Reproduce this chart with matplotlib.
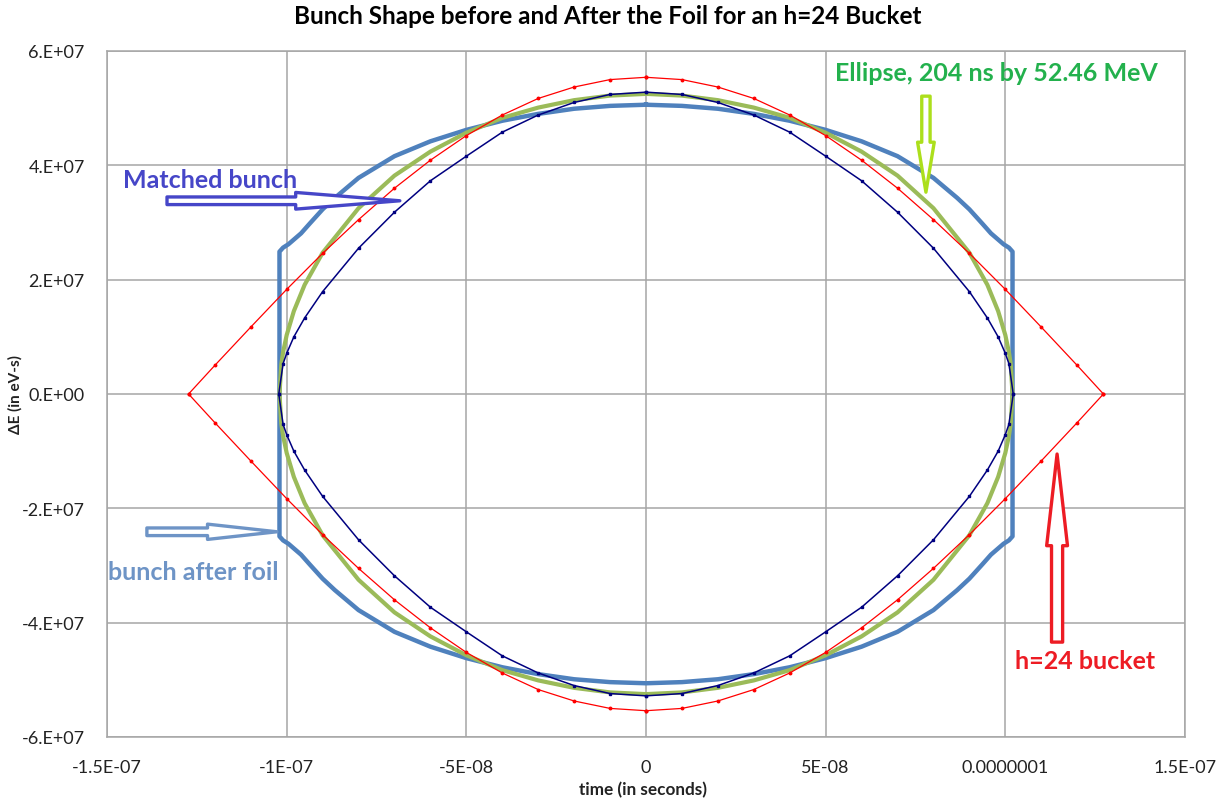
import matplotlib
matplotlib.use('Agg')
import matplotlib.pyplot as plt
import numpy as np

plt.rcParams['font.family'] = ['Lato', 'DejaVu Sans']

# upper-right quarter of each closed curve
# (time in ns, energy offset in MeV); the curves are symmetric in both axes
bucket_t = [0, 10, 20, 30, 40, 50, 60, 70, 80, 90, 100, 110, 120, 127.3]
bucket_e = [55.4, 55.0, 53.7, 51.7, 48.8, 45.2, 40.9, 36.0, 30.5, 24.6, 18.3, 11.7, 5.0, 0.0]

ellipse_t = [0, 10, 20, 30, 40, 50, 60, 70, 80, 90, 95, 98, 100, 101, 101.5, 102]
ellipse_e = [52.5, 52.2, 51.4, 50.1, 48.3, 45.7, 42.4, 38.2, 32.5, 24.7, 19.1, 14.5,
             10.3, 7.3, 5.2, 0.0]

matched_t = [0, 10, 20, 30, 40, 50, 60, 70, 80, 90, 95, 98, 100, 101, 102.2]
matched_e = [52.8, 52.4, 51.0, 48.8, 45.8, 41.6, 37.3, 31.8, 25.5, 17.9, 13.3, 10.0,
             7.1, 5.3, 0.0]

foil_t = [0, 10, 20, 30, 40, 50, 60, 70, 80, 86.6, 90, 93.6, 96, 99.5, 101, 102, 102, 102]
foil_e = [50.6, 50.4, 49.9, 49.0, 47.8, 46.2, 44.2, 41.6, 37.8, 34.3, 32.3, 29.8, 28.1,
          26.2, 25.6, 24.9, 10.0, 0.0]

title = 'Bunch Shape before and After the Foil for an h=24 Bucket'
x_ticks = [-1.5e-7, -1e-7, -5e-8, 0, 5e-8, 1e-7, 1.5e-7]
x_labels = ['-1.5E-07', '-1E-07', '-5E-08', '0', '5E-08', '0.0000001', '1.5E-07']
y_ticks = [-6e7, -4e7, -2e7, 0, 2e7, 4e7, 6e7]
y_labels = ['-6.E+07', '-4.E+07', '-2.E+07', '0.E+00', '2.E+07', '4.E+07', '6.E+07']


def closed(t_ns, e_mev):
    t = np.asarray(t_ns, float) * 1e-9
    e = np.asarray(e_mev, float) * 1e6
    # walk the quarter round all four quadrants
    xs = np.concatenate([t, t[::-1], -t, -t[::-1]])
    ys = np.concatenate([e, -e[::-1], -e, e[::-1]])
    return xs, ys


fig = plt.figure(figsize=(12.25, 8.03), dpi=100)
ax = fig.add_axes([107 / 1225, 65 / 803, 1078 / 1225, 686 / 803])

grid_c = '#a6a6a6'
ax.set_xlim(-1.5e-7, 1.5e-7)
ax.set_ylim(-6e7, 6e7)
ax.set_xticks(x_ticks)
ax.set_xticklabels(x_labels)
ax.set_yticks(y_ticks)
ax.set_yticklabels(y_labels)
ax.tick_params(length=0, labelsize=13, labelcolor='#222222')
ax.tick_params(axis='x', pad=16)
ax.tick_params(axis='y', pad=16)
ax.grid(True, color=grid_c, lw=1.1)
ax.set_axisbelow(True)
for s in ax.spines.values():
    s.set_color(grid_c)
    s.set_linewidth(1.1)

x, y = closed(foil_t, foil_e)
ax.plot(x, y, color='#4f81bd', lw=3.2, zorder=3)
x, y = closed(ellipse_t, ellipse_e)
ax.plot(x, y, color='#9bbb59', lw=3.0, zorder=4)
x, y = closed(matched_t, matched_e)
ax.plot(x, y, color='#000080', lw=1.1, marker='s', ms=2.0, zorder=5)
x, y = closed(bucket_t, bucket_e)
ax.plot(x, y, color='#ff0000', lw=0.9, marker='o', ms=1.8, zorder=5)


def hollow_arrow(tail, tip, color, tail_w, head_w, head_l):
    ax.annotate('', xy=tip, xytext=tail, zorder=6,
                arrowprops=dict(arrowstyle='simple,head_length=%g,head_width=%g,tail_width=%g'
                                % (head_l, head_w, tail_w),
                                mutation_scale=1, fc='white', ec=color, lw=2.4,
                                shrinkA=0, shrinkB=0))


hollow_arrow((-1.333e-7, 3.38e7), (-6.85e-8, 3.38e7), '#4646c8', 5.5, 12, 75)
hollow_arrow((-1.389e-7, -2.41e7), (-1.027e-7, -2.41e7), '#6e94c6', 5.5, 11, 50)
hollow_arrow((7.79e-8, 5.21e7), (7.79e-8, 3.53e7), '#acdf1c', 6, 12, 36)
hollow_arrow((1.144e-7, -4.34e7), (1.144e-7, -1.05e7), '#ed1c24', 8, 15, 66)

lab = dict(fontsize=18, fontweight='bold', va='center', ha='left', zorder=7)
ax.text(-1.456e-7, 3.76e7, 'Matched bunch', color='#4646c8', **lab)
ax.text(-1.497e-7, -3.10e7, 'bunch after foil', color='#6e94c6', **lab)
ax.text(5.26e-8, 5.63e7, 'Ellipse, 204 ns by 52.46 MeV', color='#23b14d', **lab)
ax.text(1.027e-7, -4.67e7, 'h=24 bucket', color='#ed1c24', **lab)

fig.text(608 / 1225, 1 - 17 / 803, title, ha='center', va='center',
         fontsize=17.5, fontweight='bold')
fig.text(643 / 1225, 1 - 790 / 803, 'time (in seconds)', ha='center', va='center',
         fontsize=12.3, fontweight='bold', color='#222222')
fig.text(15 / 1225, 1 - 395 / 803, 'ΔE (in eV-s)', ha='center', va='center',
         rotation=90, fontsize=11, fontweight='bold', color='#222222')

fig.savefig('out.png', dpi=100)
